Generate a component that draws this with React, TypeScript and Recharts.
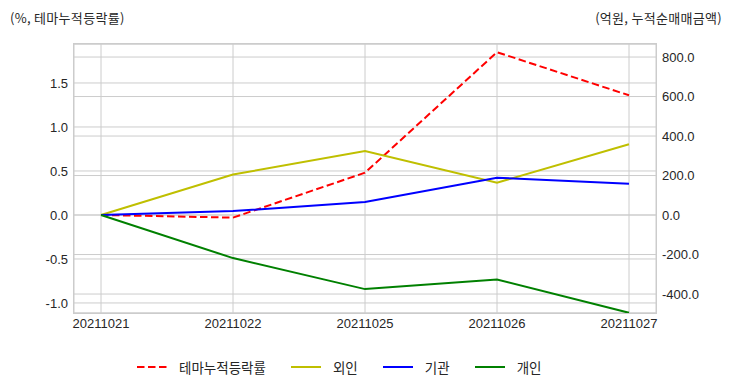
import { LineChart, Line, XAxis, YAxis, CartesianGrid } from "recharts";

const dates = ["20211021", "20211022", "20211025", "20211026", "20211027"];
const themeRate = [0, -0.03, 0.48, 1.85, 1.36];
const foreign = [0, 205, 324, 164, 358];
const institution = [0, 20, 66, 189, 158];
const individual = [0, -218, -375, -326, -495];

const leftTicks = [-1.0, -0.5, 0.0, 0.5, 1.0, 1.5];
const rightTicks = [-400, -200, 0, 200, 400, 600, 800];

const series = [
  { key: "theme", name: "테마누적등락률", color: "#ff0000", dash: "7.5 3.5", axis: "left" },
  { key: "foreign", name: "외인", color: "#bfbf00", dash: undefined, axis: "right" },
  { key: "institution", name: "기관", color: "#0000ff", dash: undefined, axis: "right" },
  { key: "individual", name: "개인", color: "#008000", dash: undefined, axis: "right" },
];

const data = dates.map((d, i) => ({
  date: d,
  theme: themeRate[i],
  foreign: foreign[i],
  institution: institution[i],
  individual: individual[i],
}));

const tickStyle = { fontSize: 13, fill: "#262626", fontFamily: "Liberation Sans, Arial, sans-serif" };
const korean = "'Noto Sans CJK KR', 'Noto Sans', sans-serif";

export default function App() {
  return (
    <div style={{ position: "absolute", left: 0, top: 0, width: 732, height: 392, background: "#fff" }}>
      <div style={{ position: "absolute", left: 10, top: 8, fontSize: 13, letterSpacing: 0.3, color: "#262626", fontFamily: korean }}>
        (%, 테마누적등락률)
      </div>
      <div style={{ position: "absolute", right: 10, top: 8, fontSize: 13, letterSpacing: 0.3, color: "#262626", fontFamily: korean }}>
        (억원, 누적순매매금액)
      </div>
      <LineChart width={732} height={392} data={data} margin={{ top: 44, right: 0, bottom: 49, left: 0 }}>
        <CartesianGrid yAxisId="left" stroke="#cccccc" strokeWidth={1} />
        <CartesianGrid yAxisId="right" vertical={false} stroke="#cccccc" strokeWidth={1} />
        <XAxis
          dataKey="date"
          height={30}
          padding={{ left: 27, right: 27 }}
          axisLine={false}
          tickLine={false}
          tickMargin={0}
          tick={tickStyle}
          interval={0}
        />
        <YAxis
          yAxisId="left"
          width={74}
          domain={[-1.114, 1.943]}
          ticks={leftTicks}
          allowDataOverflow
          axisLine={false}
          tickLine={false}
          tickMargin={0}
          tick={tickStyle}
          tickFormatter={(v: number) => v.toFixed(1)}
        />
        <YAxis
          yAxisId="right"
          orientation="right"
          width={76}
          domain={[-496, 866]}
          ticks={rightTicks}
          allowDataOverflow
          axisLine={false}
          tickLine={false}
          tickMargin={0}
          tick={{ ...tickStyle, textAnchor: "start" }}
          tickFormatter={(v: number) => v.toFixed(1)}
        />
        {series.map((s) => (
          <Line
            key={s.key}
            yAxisId={s.axis}
            dataKey={s.key}
            name={s.name}
            type="linear"
            stroke={s.color}
            strokeWidth={2}
            strokeDasharray={s.dash}
            dot={false}
            activeDot={false}
            isAnimationActive={false}
          />
        ))}
      </LineChart>
      {/* plot frame */}
      <div
        style={{
          position: "absolute",
          left: 73,
          top: 43,
          width: 582,
          height: 269,
          border: "1.5px solid #cccccc",
          pointerEvents: "none",
        }}
      />
      <div
        style={{
          position: "absolute",
          left: 137,
          top: 357,
          display: "flex",
          fontSize: 13.5,
          lineHeight: "20px",
          color: "#262626",
          fontFamily: korean,
        }}
      >
        {series.map((s) => (
          <div key={s.key} style={{ display: "flex", alignItems: "center", marginRight: 25 }}>
            <svg width={30} height={10} style={{ marginRight: 12 }}>
              <line x1={0} y1={5} x2={30} y2={5} stroke={s.color} strokeWidth={2} strokeDasharray={s.dash} />
            </svg>
            <span>{s.name}</span>
          </div>
        ))}
      </div>
    </div>
  );
}
